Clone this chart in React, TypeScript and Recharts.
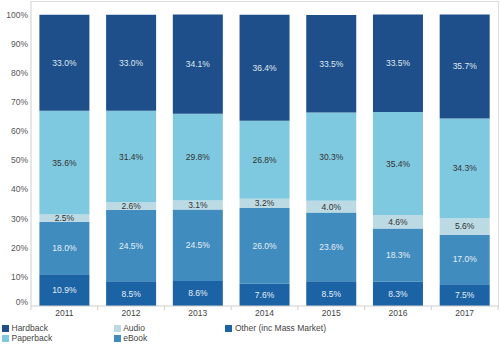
import { Bar, BarChart, LabelList, XAxis, YAxis } from "recharts";

const years = ["2011", "2012", "2013", "2014", "2015", "2016", "2017"];
const other = [10.9, 8.5, 8.6, 7.6, 8.5, 8.3, 7.5];
const ebook = [18.0, 24.5, 24.5, 26.0, 23.6, 18.3, 17.0];
const audio = [2.5, 2.6, 3.1, 3.2, 4.0, 4.6, 5.6];
const paperback = [35.6, 31.4, 29.8, 26.8, 30.3, 35.4, 34.3];
const hardback = [33.0, 33.0, 34.1, 36.4, 33.5, 33.5, 35.7];
const yTicks = [0, 10, 20, 30, 40, 50, 60, 70, 80, 90, 100];

const FONT = "'Liberation Sans', Arial, sans-serif";

// bottom to top, as stacked
const series = [
  { key: "other", name: "Other (inc Mass Market)", color: "#1b63a5", text: "#e6eef6" },
  { key: "ebook", name: "eBook", color: "#408cbe", text: "#e6eef6" },
  { key: "audio", name: "Audio", color: "#bcdae3", text: "#333333" },
  { key: "paperback", name: "Paperback", color: "#7fc9e0", text: "#333333" },
  { key: "hardback", name: "Hardback", color: "#1f4f8a", text: "#dfe7f0" },
];

const legendColumns = [
  ["hardback", "paperback"],
  ["audio", "ebook"],
  ["other"],
];

const data = years.map((year, i) => ({
  year,
  other: other[i],
  ebook: ebook[i],
  audio: audio[i],
  paperback: paperback[i],
  hardback: hardback[i],
}));

const fmt = (v: unknown) => `${Number(v).toFixed(1)}%`;

// the 0% label sits a little above the baseline in the original
function YTick(props: any) {
  const { x, y, payload } = props;
  const dy = payload.value === 0 ? -4 : 0;
  return (
    <text
      x={x}
      y={y + dy}
      dy="0.355em"
      textAnchor="end"
      fontSize={8.5}
      fill="#555"
      fontFamily={FONT}
    >
      {`${payload.value}%`}
    </text>
  );
}

// year label plus small divider ticks at the category edges
function XTick(props: any) {
  const { x, y, payload, index } = props;
  const half = payload.offset ?? 0;
  const isLast = index === years.length - 1;
  return (
    <g>
      <line x1={x - half} x2={x - half} y1={y - 4} y2={y} stroke="#cfcfcf" />
      {isLast && <line x1={x + half} x2={x + half} y1={y - 4} y2={y} stroke="#cfcfcf" />}
      <text
        x={x}
        y={y}
        dy="0.71em"
        textAnchor="middle"
        fontSize={8.5}
        fill="#444"
        fontFamily={FONT}
      >
        {payload.value}
      </text>
    </g>
  );
}

function ChartLegend() {
  return (
    <div
      style={{
        position: "absolute",
        left: 2,
        top: 323,
        display: "flex",
        fontFamily: FONT,
        fontSize: 8.5,
        color: "#444",
        whiteSpace: "nowrap",
      }}
    >
      {legendColumns.map((col, ci) => (
        <div key={ci} style={{ width: 111.7 }}>
          {col.map((k) => {
            const s = series.find((x) => x.key === k)!;
            return (
              <div key={k} style={{ display: "flex", alignItems: "center", height: 10 }}>
                <span
                  style={{
                    display: "inline-block",
                    width: 7,
                    height: 7,
                    background: s.color,
                    marginRight: 2.5,
                  }}
                />
                <span style={{ lineHeight: "10px" }}>{s.name}</span>
              </div>
            );
          })}
        </div>
      ))}
    </div>
  );
}

export default function App() {
  return (
    <div style={{ position: "absolute", left: 0, top: 0, width: 500, height: 348, background: "#fff" }}>
      <BarChart
        width={500}
        height={348}
        data={data}
        margin={{ top: 1, right: 2, left: 0, bottom: 28 }}
        barCategoryGap={8.4}
      >
        <XAxis
          dataKey="year"
          height={14}
          tickLine={false}
          tickSize={0}
          tickMargin={4}
          axisLine={{ stroke: "#cfcfcf" }}
          tick={<XTick />}
          interval={0}
        />
        <YAxis
          width={31}
          domain={[0, 104.7]}
          ticks={yTicks}
          allowDataOverflow
          tickLine={false}
          tickSize={3}
          tickMargin={0}
          axisLine={{ stroke: "#cfcfcf" }}
          tick={<YTick />}
        />
        {series.map((s) => (
          <Bar
            key={s.key}
            dataKey={s.key}
            name={s.name}
            stackId="a"
            fill={s.color}
            isAnimationActive={false}
          >
            <LabelList
              dataKey={s.key}
              position="center"
              formatter={fmt}
              style={{ fontSize: 8.5, fill: s.text, fontFamily: FONT }}
            />
          </Bar>
        ))}
      </BarChart>
      <div
        style={{
          position: "absolute",
          left: 31,
          top: 1,
          width: 467,
          height: 305,
          borderTop: "1px solid #dcdcdc",
          borderRight: "1px solid #dcdcdc",
          pointerEvents: "none",
        }}
      />
      <ChartLegend />
    </div>
  );
}
